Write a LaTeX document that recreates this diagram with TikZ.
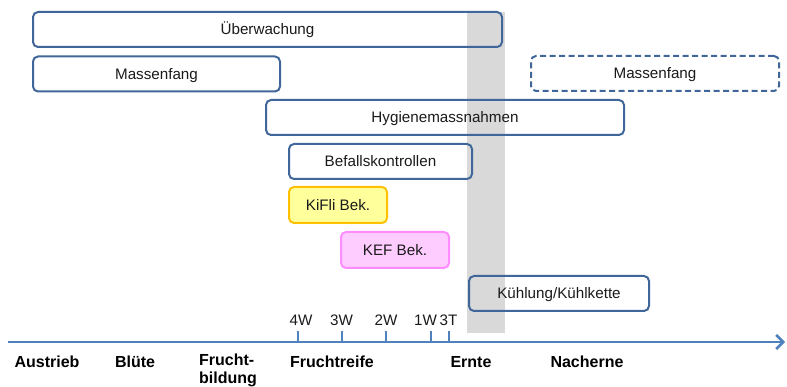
\documentclass[tikz,border=0pt]{standalone}
\usepackage{fontspec}
\setmainfont{Liberation Sans}
\usetikzlibrary{arrows.meta}
\definecolor{boxblue}{HTML}{41679A}
\definecolor{axisblue}{HTML}{4F81BD}
\definecolor{band}{HTML}{D9D9D9}
\definecolor{yelfill}{HTML}{FFFF9C}
\definecolor{yeldraw}{HTML}{FFC000}
\definecolor{pinkfill}{HTML}{FFCCFF}
\definecolor{pinkdraw}{HTML}{FF8CFF}
\definecolor{txt}{HTML}{1A1A1A}
\newcommand{\fsz}{\fontsize{15.2}{19}\selectfont}
\newcommand{\fszb}{\fontsize{16}{18}\selectfont\bfseries}
\tikzset{
  box/.style={draw=boxblue, line width=2pt, rounded corners=5pt, inner sep=0pt,
              font=\fsz, text=txt, minimum height=35pt, text height=10.5pt, text depth=0pt},
  yelbox/.style={box, draw=yeldraw, fill=yelfill},
  pinkbox/.style={box, draw=pinkdraw, fill=pinkfill},
  dashbox/.style={box, dash pattern=on 6pt off 3.5pt},
  axisline/.style={draw=axisblue, line width=2.6pt, -{Straight Barb[length=7pt,width=14pt,line width=2.6pt]}},
  tickline/.style={draw=axisblue, line width=1.6pt},
  ticklbl/.style={font=\fsz, text=txt, inner sep=0pt, anchor=base},
  phase/.style={font=\fszb, text=black, inner sep=0pt, align=left}
}
\begin{document}
\begin{tikzpicture}[x=1pt, y=-1pt]
\useasboundingbox (0,0) rectangle (787,387);
% harvest band
\fill[band] (467,12) rectangle (505,333);
% boxes
\node[box, minimum width=469pt] (ueb) at (267.5,29.5) {Überwachung};
\node[box, minimum width=247pt] (mfl) at (156.5,74) {Massenfang};
\node[dashbox, minimum width=248pt] (mfr) at (655,73.5) {Massenfang};
\node[box, minimum width=358pt] (hyg) at (445,117.5) {Hygienemassnahmen};
\node[box, minimum width=183pt] (bef) at (380.5,161.5) {Befallskontrollen};
\node[yelbox, minimum width=98pt, minimum height=36pt] (kifli) at (338,205) {KiFli Bek.};
\node[pinkbox, minimum width=108pt, minimum height=36pt] (kef) at (395,250) {KEF Bek.};
\node[box, minimum width=180pt] (kuehl) at (559,293.5) {Kühlung/Kühlkette};
% axis
\coordinate (a0) at (8,342);
\coordinate (a1) at (785,342);
\draw[axisline] (a0) -- (a1);
% ticks
\foreach \x/\lx/\l/\n in {298/301/4W/t4, 342/341.5/3W/t3, 386/386/2W/t2, 431/425.5/1W/t1, 449/448.5/3T/tt}{
  \coordinate (\n b) at (\x,342);
  \coordinate (\n a) at (\x,331);
  \draw[tickline] (\n a) -- (\n b);
  \node[ticklbl] (\n) at (\lx,325.5) {\l};
}
% phases
\node[phase] (austrieb) at (47,362) {Austrieb};
\node[phase] (bluete) at (135,362) {Blüte};
\node[phase, anchor=north west] (frucht) at (199,354) {Frucht-\\bildung};
\node[phase] (reife) at (332,362) {Fruchtreife};
\node[phase] (ernte) at (471,362) {Ernte};
\node[phase] (nach) at (587,362) {Nacherne};
\end{tikzpicture}
\end{document}
